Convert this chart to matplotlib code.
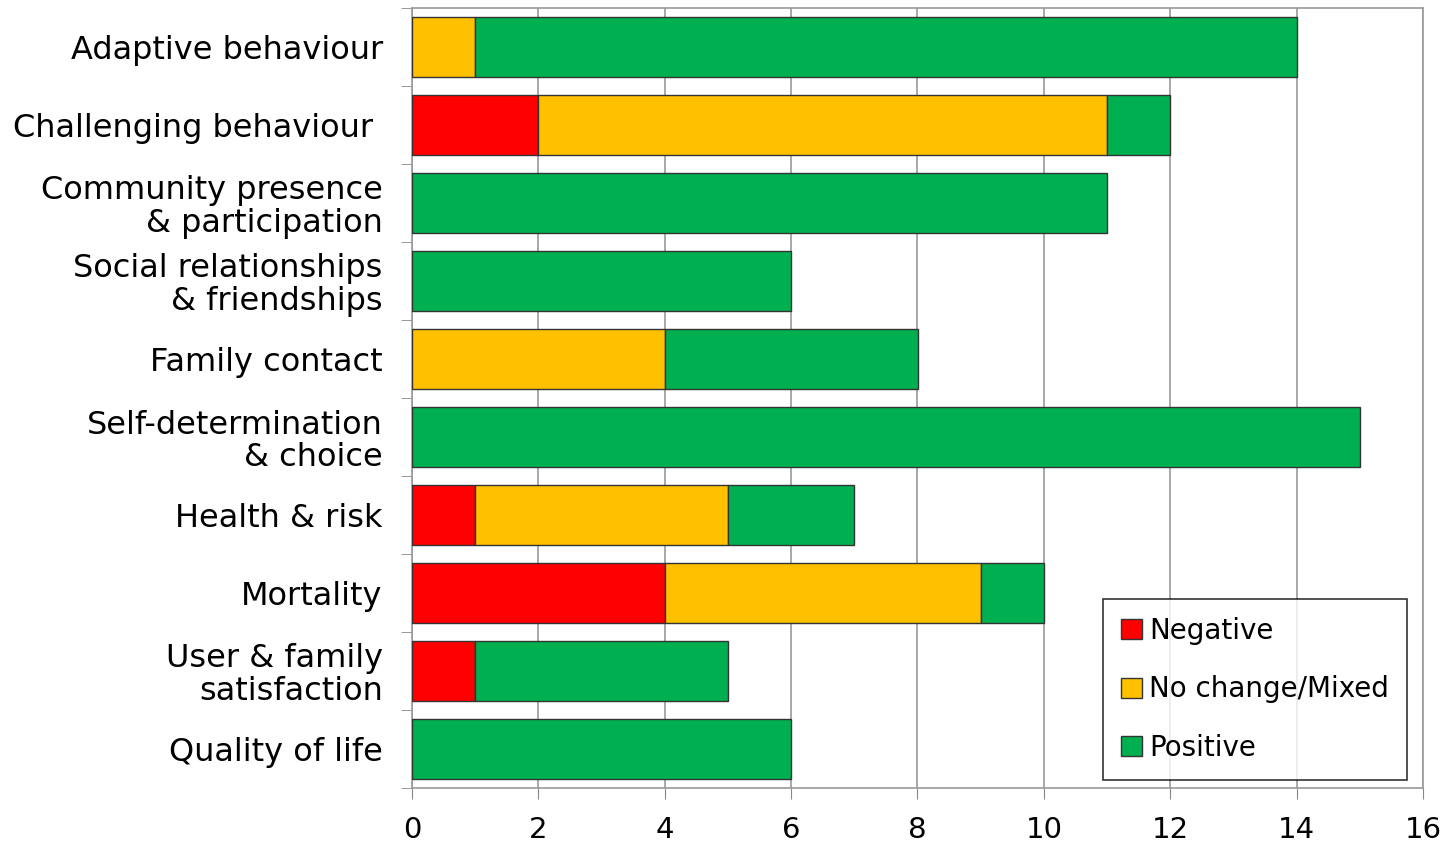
import numpy as np
import matplotlib
matplotlib.use("Agg")
import matplotlib.pyplot as plt

# data (top to bottom)
categories = [
    "Adaptive behaviour",
    "Challenging behaviour ",
    "Community presence\n& participation",
    "Social relationships\n& friendships",
    "Family contact",
    "Self-determination\n& choice",
    "Health & risk",
    "Mortality",
    "User & family\nsatisfaction",
    "Quality of life",
]
negative = [0, 2, 0, 0, 0, 0, 1, 4, 1, 0]
mixed = [1, 9, 0, 0, 4, 0, 4, 5, 0, 0]
positive = [13, 1, 11, 6, 4, 15, 2, 1, 4, 6]
series_names = ["Negative", "No change/Mixed", "Positive"]
colors = ["#FF0000", "#FFC000", "#00B050"]

plt.rcParams['font.family'] = ['DejaVu Sans']

fig = plt.figure(figsize=(14.47, 8.42), dpi=100)
ax = fig.add_axes([412 / 1447, 1 - 788 / 842, 1011 / 1447, 780 / 842])

y = np.arange(len(categories))[::-1]
left = np.zeros(len(categories))
for vals, name, col in zip([negative, mixed, positive], series_names, colors):
    vals = np.array(vals, dtype=float)
    ax.barh(y, vals, left=left, height=0.76, color=col, edgecolor="#333333",
            linewidth=1.0, label=name, zorder=3)
    left += vals

ax.set_xlim(0, 16)
ax.set_ylim(-0.5, len(categories) - 0.5)
ax.set_xticks(np.arange(0, 17, 2))
ax.set_yticks(y)
ax.set_yticklabels(categories, fontsize=23, linespacing=1.05)
ax.set_yticks(np.arange(-0.5, len(categories), 1), minor=True)
ax.tick_params(axis='y', which='major', length=0, pad=21)
ax.tick_params(axis='y', which='minor', length=8, color='#888888')
ax.tick_params(axis='x', length=8, color='#888888', labelsize=21, pad=12)
ax.grid(axis='x', color='#999999', linewidth=1.2, zorder=0)
for s in ax.spines.values():
    s.set_color('#999999')
    s.set_linewidth(1.2)

leg = ax.legend(loc='lower right', bbox_to_anchor=((1407 - 412) / 1011, (788 - 780) / 780),
                fontsize=20, frameon=True, fancybox=False, edgecolor='black',
                handlelength=0.75, handleheight=0.75, handletextpad=0.25,
                labelspacing=1.1, borderpad=0.65, borderaxespad=0)
leg.get_frame().set_linewidth(1.2)
for h in leg.legend_handles:
    h.set_edgecolor('#333333')

fig.savefig("out.png", dpi=100)
